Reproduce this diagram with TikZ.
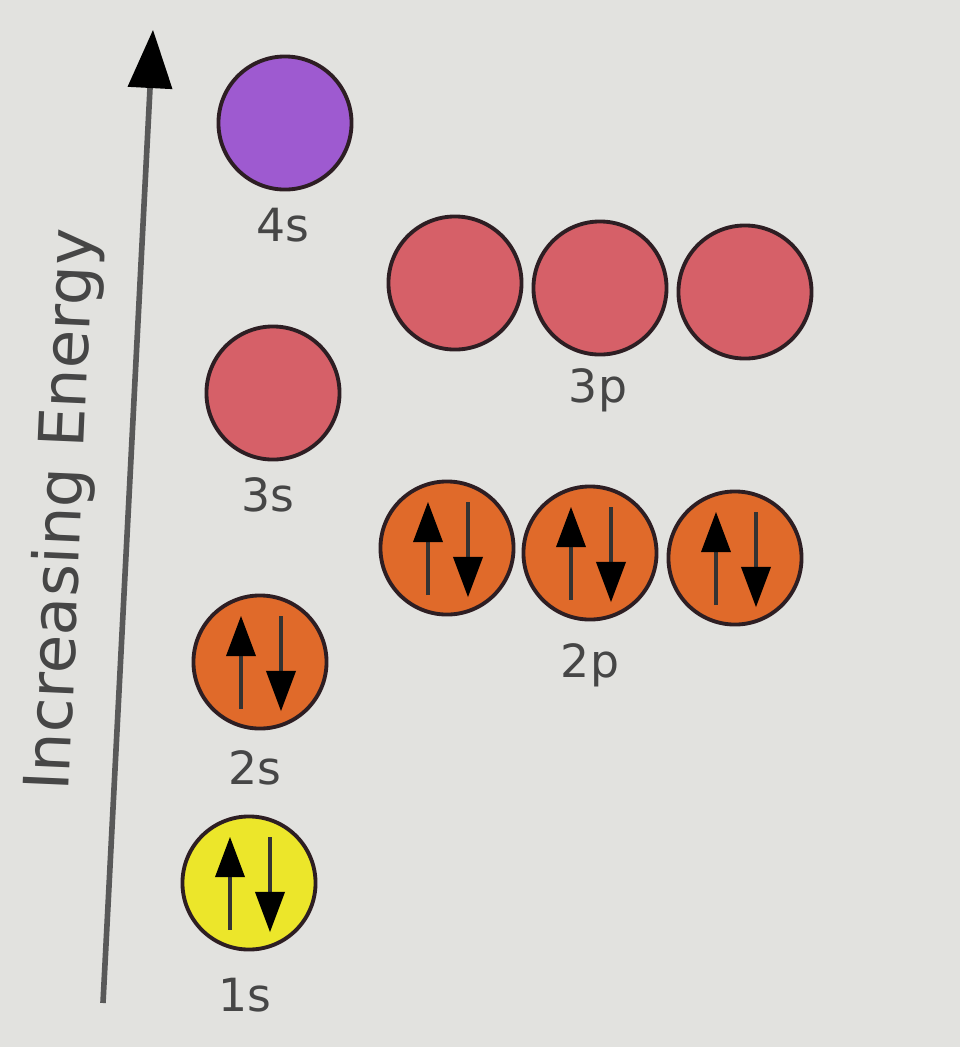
\documentclass[tikz,border=0pt]{standalone}
\usepackage{fontspec}
\setmainfont{DejaVu Sans}
\usetikzlibrary{positioning,arrows.meta}

\definecolor{paper}{RGB}{226,226,223}
\definecolor{rim}{RGB}{45,30,35}
\definecolor{ink}{RGB}{70,70,70}
\definecolor{violet4}{RGB}{158,90,208}
\definecolor{salmon3}{RGB}{214,96,104}
\definecolor{orange2}{RGB}{224,106,42}
\definecolor{yellow1}{RGB}{236,230,42}

% two opposite spins inside an orbital
\newcommand{\spinpair}[1]{%
	\draw[spin] ([shift={(-19,47)}]#1.center) -- ([shift={(-19,-46)}]#1.center);
	\draw[spin] ([shift={(21,-46)}]#1.center) -- ([shift={(21,49)}]#1.center);}

\begin{document}
\begin{tikzpicture}[
	x=0.01cm, y=-0.01cm,
	orbital/.style={circle, draw=rim, line width=1.1pt, minimum size=1.33cm,
		inner sep=0pt},
	lbl/.style={text=ink, font=\fontsize{13}{15}\selectfont, inner sep=0pt},
	spin/.style={draw=black!80, line width=1.1pt,
		-{Triangle[length=0.4cm, width=0.3cm, fill=black, color=black, line width=0pt]}},
	axis/.style={draw=black!65, line width=1.6pt,
		-{Triangle[length=0.58cm, width=0.45cm, fill=black, color=black, line width=0pt]}}
	]
	\fill[paper] (0,0) rectangle (960,1047);
	\useasboundingbox (0,0) rectangle (960,1047);

	% energy axis
	\coordinate (axisbot) at (103,1003);
	\coordinate (axistop) at (153,30);
	\draw[axis] (axisbot) -- (axistop);
	\node (energy) [lbl, rotate=87.5, font=\fontsize{17.8}{20}\selectfont]
		at (64,510) {Increasing Energy};

	% s orbitals
	\node (o4s) [orbital, fill=violet4] at (285,123) {};
	\node (o3s) [orbital, fill=salmon3] at (273,393) {};
	\node (o2s) [orbital, fill=orange2] at (260,662) {};
	\node (o1s) [orbital, fill=yellow1] at (249,883) {};

	% p orbitals
	\node (o3p1) [orbital, fill=salmon3] at (455,283) {};
	\node (o3p2) [orbital, fill=salmon3] at (600,288) {};
	\node (o3p3) [orbital, fill=salmon3] at (745,292) {};
	\node (o2p1) [orbital, fill=orange2] at (447,548) {};
	\node (o2p2) [orbital, fill=orange2] at (590,553) {};
	\node (o2p3) [orbital, fill=orange2] at (735,558) {};

	% labels
	\node (l4s) [lbl] at (283,225) {4s};
	\node (l3s) [lbl] at (268,495) {3s};
	\node (l2s) [lbl] at (255,768) {2s};
	\node (l1s) [lbl] at (245,995) {1s};
	\node (l3p) [lbl] at (598,390) {3p};
	\node (l2p) [lbl] at (590,665) {2p};

	% electrons
	\spinpair{o1s}
	\spinpair{o2s}
	\spinpair{o2p1}
	\spinpair{o2p2}
	\spinpair{o2p3}
\end{tikzpicture}
\end{document}
